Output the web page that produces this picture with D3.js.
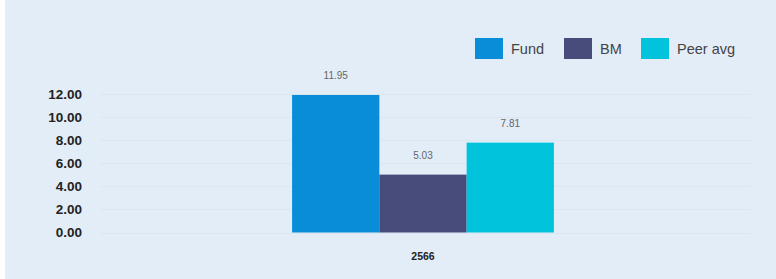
<!DOCTYPE html>
<html>
<head>
<meta charset="utf-8">
<script src="https://cdn.jsdelivr.net/npm/d3@7"></script>
<style>
  html, body { margin: 0; padding: 0; background: #fff; }
  svg { display: block; font-family: "Liberation Sans", Arial, sans-serif; }
</style>
</head>
<body>
<svg id="chart" width="776" height="279"></svg>
<script>
// data
const categories = ["2566"];
const seriesNames = ["Fund", "BM", "Peer avg"];
const seriesValues = [[11.95], [5.03], [7.81]];
const yTicks = [0, 2, 4, 6, 8, 10, 12];
const colors = ["#0a8dd8", "#474c7b", "#02c3dc"];

const W = 776, H = 279;
const svg = d3.select("#chart");

svg.append("rect")
  .attr("x", 5).attr("y", 0)
  .attr("width", W - 5).attr("height", H)
  .attr("fill", "#e3edf8");

const x0 = d3.scaleBand()
  .domain(categories)
  .range([97, 749])
  .paddingInner(0)
  .paddingOuter(0.745);

const x1 = d3.scaleBand()
  .domain(seriesNames)
  .range([0, x0.bandwidth()]);

const y = d3.scaleLinear()
  .domain([0, 12])
  .range([232.5, 94.4]);

// grid
svg.append("g")
  .selectAll("line")
  .data(yTicks)
  .join("line")
  .attr("x1", 100).attr("x2", 750)
  .attr("y1", d => Math.round(y(d)) + 0.5)
  .attr("y2", d => Math.round(y(d)) + 0.5)
  .attr("stroke", "#dbe6f2")
  .attr("stroke-width", 1);

// y axis
const yAxis = svg.append("g")
  .attr("transform", "translate(82,0)")
  .call(d3.axisLeft(y).tickValues(yTicks).tickFormat(d3.format(".2f")).tickSize(0).tickPadding(0));
yAxis.select(".domain").remove();
yAxis.selectAll("text")
  .attr("font-size", 13.5)
  .attr("font-weight", "bold")
  .attr("fill", "#222")
  .attr("font-family", "Liberation Sans, Arial, sans-serif");

// bars
const groups = svg.append("g")
  .selectAll("g")
  .data(categories)
  .join("g")
  .attr("transform", d => `translate(${x0(d)},0)`);

groups.selectAll("rect")
  .data((d, i) => seriesNames.map((s, j) => ({ s, v: seriesValues[j][i], c: colors[j] })))
  .join("rect")
  .attr("x", d => x1(d.s))
  .attr("width", x1.bandwidth())
  .attr("y", d => y(d.v))
  .attr("height", d => y(0) - y(d.v))
  .attr("fill", d => d.c);

groups.selectAll("text.val")
  .data((d, i) => seriesNames.map((s, j) => ({ s, v: seriesValues[j][i] })))
  .join("text")
  .attr("class", "val")
  .attr("x", d => x1(d.s) + x1.bandwidth() / 2)
  .attr("y", d => y(d.v) - 16)
  .attr("text-anchor", "middle")
  .attr("font-size", 10)
  .attr("fill", "#666")
  .text(d => d3.format(".2f")(d.v));

// x axis labels
svg.append("g")
  .selectAll("text")
  .data(categories)
  .join("text")
  .attr("x", d => x0(d) + x0.bandwidth() / 2)
  .attr("y", 260)
  .attr("text-anchor", "middle")
  .attr("font-size", 10.5)
  .attr("font-weight", "bold")
  .attr("fill", "#222")
  .text(d => d);

// legend
const legendX = [475, 564, 641];
const legend = svg.append("g")
  .selectAll("g")
  .data(seriesNames)
  .join("g")
  .attr("transform", (d, i) => `translate(${legendX[i]},38)`);
legend.append("rect")
  .attr("width", 28).attr("height", 21)
  .attr("fill", (d, i) => colors[i]);
legend.append("text")
  .attr("x", 36).attr("y", 15.5)
  .attr("font-size", 14.5)
  .attr("fill", "#444")
  .text(d => d);
</script>
</body>
</html>
